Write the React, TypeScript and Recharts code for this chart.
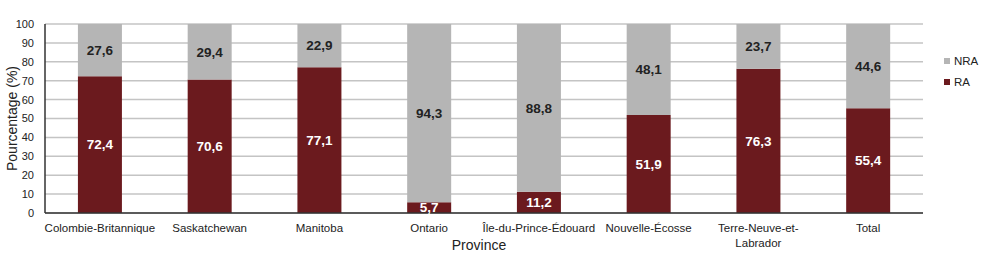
import { Bar, BarChart, CartesianGrid, LabelList, XAxis, YAxis } from "recharts";

const provinces = [
  "Colombie-Britannique",
  "Saskatchewan",
  "Manitoba",
  "Ontario",
  "Île-du-Prince-Édouard",
  "Nouvelle-Écosse",
  "Terre-Neuve-et-Labrador",
  "Total",
];
const ra = [72.4, 70.6, 77.1, 5.7, 11.2, 51.9, 76.3, 55.4];
const nra = [27.6, 29.4, 22.9, 94.3, 88.8, 48.1, 23.7, 44.6];
const yTicks = [0, 10, 20, 30, 40, 50, 60, 70, 80, 90, 100];

const raColor = "#6b1a1e";
const nraColor = "#b5b5b5";
const font = "'Liberation Sans', Arial, sans-serif";

const data = provinces.map((name, i) => ({ name, ra: ra[i], nra: nra[i] }));

const fmt = (v: unknown) => String(v).replace(".", ",");

function ProvinceTick(props: any) {
  const { x, y, payload } = props;
  const text: string = payload.value;
  const cut = text.indexOf("-et-");
  const lines = text.length > 22 && cut >= 0 ? [text.slice(0, cut + 4), text.slice(cut + 4)] : [text];
  return (
    <text x={x} y={y + 11} textAnchor="middle" fontSize={11.5} fill="#222" fontFamily={font}>
      {lines.map((l, i) => (
        <tspan key={i} x={x} dy={i === 0 ? 0 : 15}>
          {l}
        </tspan>
      ))}
    </text>
  );
}

function LegendBox() {
  const items = [
    { label: "NRA", color: nraColor },
    { label: "RA", color: raColor },
  ];
  return (
    <div style={{ position: "absolute", left: 944, top: 50, fontFamily: font, fontSize: 11.5, color: "#222" }}>
      {items.map((it) => (
        <div key={it.label} style={{ display: "flex", alignItems: "center", height: 21 }}>
          <span style={{ width: 6, height: 6, background: it.color, marginRight: 4 }} />
          {it.label}
        </div>
      ))}
    </div>
  );
}

export default function App() {
  return (
    <div style={{ position: "absolute", left: 0, top: 0, width: 1000, height: 259, background: "#fff" }}>
      <BarChart
        width={1000}
        height={259}
        data={data}
        margin={{ top: 24, right: 77, bottom: 0, left: 0 }}
        barCategoryGap="30%"
      >
        <CartesianGrid vertical={false} stroke="#c4c4c4" strokeWidth={1.5} />
        <XAxis
          dataKey="name"
          tick={<ProvinceTick />}
          tickLine={false}
          axisLine={{ stroke: "#333", strokeWidth: 1.5 }}
          interval={0}
          height={46}
          label={{ value: "Province", position: "insideBottom", offset: 9, dx: -5, fontSize: 14, fill: "#222", fontFamily: font }}
        />
        <YAxis
          width={45}
          domain={[0, 100]}
          ticks={yTicks}
          interval={0}
          tick={{ fontSize: 11, fill: "#222", fontFamily: font }}
          tickLine={false}
          tickMargin={5}
          axisLine={{ stroke: "#333", strokeWidth: 1.5 }}
          label={{ value: "Pourcentage (%)", angle: -90, position: "insideLeft", offset: 12, fontSize: 14, fill: "#222", fontFamily: font, style: { textAnchor: "middle" } }}
        />
        <Bar dataKey="ra" name="RA" stackId="a" fill={raColor} isAnimationActive={false}>
          <LabelList dataKey="ra" position="center" formatter={fmt} fill="#fff" fontSize={13.5} fontWeight="bold" fontFamily={font} />
        </Bar>
        <Bar dataKey="nra" name="NRA" stackId="a" fill={nraColor} isAnimationActive={false}>
          <LabelList dataKey="nra" position="center" formatter={fmt} fill="#222" fontSize={13.5} fontWeight="bold" fontFamily={font} />
        </Bar>
      </BarChart>
      <LegendBox />
    </div>
  );
}
